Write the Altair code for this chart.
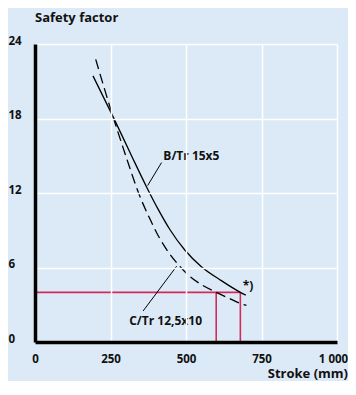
import altair as alt
import pandas as pd

# ---- data ----
b_stroke = [192, 258, 320, 369, 408, 446, 496, 551, 612, 683, 698]
b_factor = [21.43, 18.17, 14.98, 12.51, 10.68, 9.08, 7.41, 6.06, 5.02, 3.96, 3.78]
c_stroke = [201, 258, 303, 345, 380, 413, 446, 480, 513, 551, 595, 639, 683, 700]
c_factor = [22.76, 18.17, 14.82, 11.87, 9.94, 8.34, 7.09, 6.08, 5.28, 4.62, 4.06, 3.56, 3.08, 2.95]

series_names = ["B/Tr 15x5", "C/Tr 12,5x10"]
limit_factor = 4
limit_strokes = [600, 680]

x_ticks = [0, 250, 500, 750, 1000]
x_tick_labels = ["0", "250", "500", "750", "1 000"]
y_ticks = [0, 6, 12, 18, 24]

y_title = "Safety factor"
x_title = "Stroke (mm)"

FONT = "Open Sans"
BG = "#dbeaf6"
RED = "#d42a5b"
INK = "#111111"
W, H = 302, 298

df_b = pd.DataFrame({"stroke": b_stroke, "factor": b_factor})
df_c = pd.DataFrame({"stroke": c_stroke, "factor": c_factor})

label_expr = " : ".join(
    [f"datum.value == {v} ? '{l}'" for v, l in zip(x_ticks, x_tick_labels)]
) + " : datum.label"

xscale = alt.Scale(domain=[0, 1000], nice=False, zero=True)
yscale = alt.Scale(domain=[0, 24], nice=False)

xenc = alt.X(
    "stroke:Q", scale=xscale,
    axis=alt.Axis(
        values=x_ticks, labelExpr=label_expr, title=None,
        grid=True, gridColor="white", gridWidth=1.5,
        domain=True, domainColor="black", domainWidth=3.5,
        ticks=False, tickSize=0, labelFlush=False, labelPadding=20,
        labelBaseline="alphabetic",
        labelOffset={"condition": {"test": "datum.value == 1000", "value": -4}, "value": 0},
        labelFont=FONT, labelFontSize=11.5, labelFontWeight="bold", labelColor=INK,
        zindex=1,
    ),
)
yenc = alt.Y(
    "factor:Q", scale=yscale,
    axis=alt.Axis(
        values=y_ticks, title=None,
        grid=True, gridColor="white", gridWidth=1.5,
        domain=True, domainColor="black", domainWidth=3.5,
        ticks=False, tickSize=0, labelPadding=27, labelAlign="left",
        labelBaseline="alphabetic",
        labelFont=FONT, labelFontSize=11.5, labelFontWeight="bold", labelColor=INK,
        zindex=1,
    ),
)

line_b = alt.Chart(df_b).mark_line(
    color="black", strokeWidth=1.3, interpolate="monotone"
).encode(x=xenc, y=yenc)

line_c = alt.Chart(df_c).mark_line(
    color="black", strokeWidth=1.3, interpolate="monotone", strokeDash=[10, 5]
).encode(x="stroke:Q", y="factor:Q")

# red limit lines
df_h = pd.DataFrame({"x": [0], "x2": [max(limit_strokes)], "y": [limit_factor]})
red_h = alt.Chart(df_h).mark_rule(color=RED, strokeWidth=1.6).encode(
    x="x:Q", x2="x2:Q", y="y:Q"
)
df_v = pd.DataFrame({"x": limit_strokes, "y": [0] * 2, "y2": [limit_factor] * 2})
red_v = alt.Chart(df_v).mark_rule(color=RED, strokeWidth=1.6).encode(
    x="x:Q", y="y:Q", y2="y2:Q"
)

# leader lines
df_lead = pd.DataFrame({
    "x": [419, 358], "y": [14.45, 2.5], "x2": [373, 469], "y2": [12.6, 6.1]
})
leaders = alt.Chart(df_lead).mark_rule(color="black", strokeWidth=1).encode(
    x="x:Q", y="y:Q", x2="x2:Q", y2="y2:Q"
)

df_lab = pd.DataFrame({
    "x": [425, 312, 688], "y": [15.0, 1.67, 4.5],
    "t": [series_names[0], series_names[1], "*)"],
})
labels = alt.Chart(df_lab).mark_text(
    align="left", baseline="middle", font=FONT, fontSize=12,
    fontWeight="bold", color=INK
).encode(x="x:Q", y="y:Q", text="t:N")

# axis titles as text
ytitle = alt.Chart(pd.DataFrame({"t": [y_title]})).mark_text(
    align="left", baseline="alphabetic", font=FONT, fontSize=13,
    fontWeight="bold", color=INK
).encode(x=alt.value(0), y=alt.value(-22), text="t:N")
xtitle = alt.Chart(pd.DataFrame({"t": [x_title]})).mark_text(
    align="right", baseline="alphabetic", font=FONT, fontSize=13,
    fontWeight="bold", color=INK
).encode(x=alt.value(W + 11), y=alt.value(H + 36), text="t:N")

chart = alt.layer(
    red_h, red_v, line_c, line_b, leaders, labels, ytitle, xtitle
).properties(
    width=W, height=H,
    autosize=alt.AutoSizeParams(type="none"),
    padding={"left": 27, "top": 36, "right": 11, "bottom": 39},
    background=BG,
).configure_view(stroke=None, fill=BG)

chart.save("out.html", embed_options={"renderer": "svg", "actions": False})
